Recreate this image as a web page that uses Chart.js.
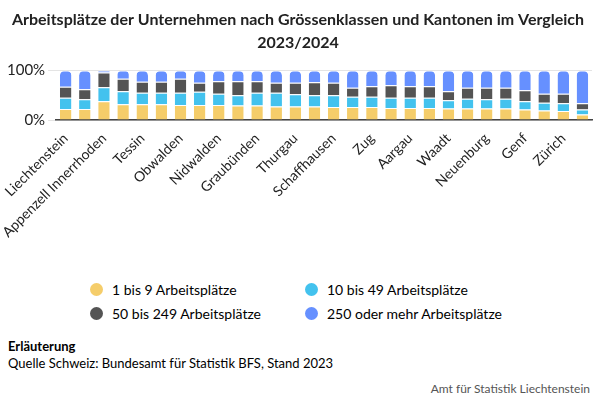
<!DOCTYPE html>
<html><head><meta charset="utf-8">
<script src="https://cdn.jsdelivr.net/npm/chart.js@4"></script>
<style>
body{margin:0;width:600px;height:400px;font-family:Lato,sans-serif;color:#000;background:#fff;position:relative}
#wrap{position:absolute;left:0;top:0;width:600px;height:240px}
.legend{position:absolute;top:281px;left:90px;display:grid;grid-template-columns:215px 220px;row-gap:7px;font-size:14px}
.legend span{display:inline-block;width:13px;height:13px;border-radius:50%;margin-right:9px;vertical-align:-1px}
.note{position:absolute;left:8px;top:338px;font-size:13px;line-height:17px}
.src{position:absolute;right:10px;top:381px;font-size:12px;color:#555}
</style></head><body>
<div id="wrap"><canvas id="c"></canvas></div>
<div class="legend" id="legend"></div>
<div class="note"><b>Erläuterung</b><br>Quelle Schweiz: Bundesamt für Statistik BFS, Stand 2023</div>
<div class="src">Amt für Statistik Liechtenstein</div>
<script>
const categories = ["Liechtenstein", "Appenzell Ausserrhoden", "Appenzell Innerrhoden", "Glarus", "Tessin", "Jura",
  "Obwalden", "Uri", "Nidwalden", "Wallis", "Graubünden", "Schwyz", "Thurgau", "Freiburg", "Schaffhausen",
  "Luzern", "Zug", "St. Gallen", "Aargau", "Solothurn", "Waadt", "Basel-Landschaft", "Neuenburg", "Bern",
  "Genf", "Schweiz", "Zürich", "Basel-Stadt"];
const small = [22, 22, 38, 32, 32, 32, 30, 30, 30, 29, 29, 27, 27, 27, 26, 26, 26, 24, 24, 24, 23, 23, 23, 23, 21, 19, 18, 11];
const medium = [23, 20, 28, 26, 23, 23, 25, 27, 23, 21, 26, 28, 25, 23, 24, 21, 21, 21, 21, 21, 17, 20, 19, 20, 17, 16, 16, 10];
const large = [22, 20, 30, 25, 22, 22, 28, 18, 25, 28, 23, 20, 23, 26, 25, 18, 21, 25, 23, 23, 18, 22, 23, 22, 22, 18, 19, 13];
const huge = [33, 38, 4, 17, 23, 23, 17, 25, 22, 22, 22, 25, 25, 24, 25, 35, 32, 30, 32, 32, 42, 35, 35, 35, 40, 47, 47, 66];
const seriesNames = ["1 bis 9 Arbeitsplätze", "10 bis 49 Arbeitsplätze", "50 bis 249 Arbeitsplätze", "250 oder mehr Arbeitsplätze"];
const colors = ["#f5cd6a", "#43c2ee", "#545454", "#6690ff"];
const values = [small, medium, large, huge];

// legend in two columns, order like the reference
document.getElementById("legend").innerHTML = [0, 1, 2, 3]
  .map((i) => `<div><span style="background:${colors[i]}"></span>${seriesNames[i]}</div>`)
  .join("");

new Chart(document.getElementById("c"), {
  type: "bar",
  data: {
    labels: categories,
    datasets: values.map((v, i) => ({
      label: seriesNames[i],
      data: v,
      backgroundColor: colors[i],
      borderColor: "#fff",
      borderWidth: { top: 1 },
      borderSkipped: "bottom",
      borderRadius: i === 3 ? { topLeft: 5, topRight: 5 } : 0,
      barPercentage: 0.6,
      categoryPercentage: 1
    }))
  },
  options: {
    responsive: true,
    maintainAspectRatio: false,
    animation: false,
    layout: { padding: { left: 4, right: 8 } },
    plugins: {
      legend: { display: false },
      tooltip: { enabled: false },
      title: {
        display: true,
        text: ["Arbeitsplätze der Unternehmen nach Grössenklassen und Kantonen im Vergleich", "2023/2024"],
        font: { family: "Lato", size: 16, weight: "bold", lineHeight: 1.45 },
        color: "#222",
        padding: { top: 8, bottom: 16 }
      }
    },
    scales: {
      x: {
        stacked: true,
        grid: { display: false },
        border: { color: "#444", width: 1.5 },
        ticks: { color: "#222", font: { family: "Lato", size: 14 }, maxRotation: 45, minRotation: 45, autoSkip: true, padding: 2 }
      },
      y: {
        stacked: true,
        min: 0, max: 100,
        border: { display: false },
        grid: { color: "#e4e4e4" },
        ticks: { stepSize: 100, color: "#222", font: { family: "Lato", size: 15 }, callback: (v) => v + "%" }
      }
    }
  }
});
</script>
</body></html>
